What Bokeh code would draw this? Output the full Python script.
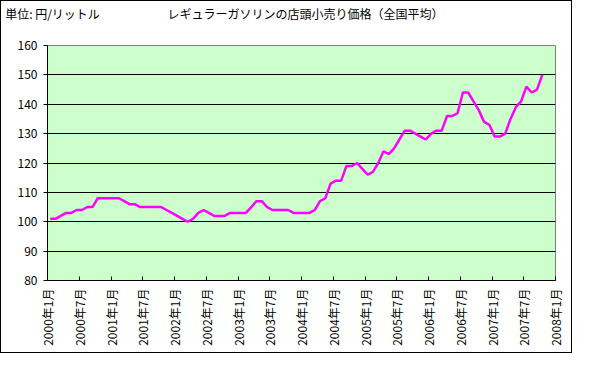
import math
from bokeh.plotting import figure
from bokeh.models import Range1d, FixedTicker, LinearAxis
from bokeh.embed import file_html
from bokeh.resources import INLINE

# ---- data ----
prices = [101, 101, 102, 103, 103, 104, 104, 105, 105, 108,
          108, 108, 108, 108, 107, 106, 106, 105, 105, 105,
          105, 105, 104, 103, 102, 101, 100, 101, 103, 104,
          103, 102, 102, 102, 103, 103, 103, 103, 105, 107,
          107, 105, 104, 104, 104, 104, 103, 103, 103, 103,
          104, 107, 108, 113, 114, 114, 119, 119, 120, 118,
          116, 117, 120, 124, 123, 125, 128, 131, 131, 130,
          129, 128, 130, 131, 131, 136, 136, 137, 144, 144,
          141, 138, 134, 133, 129, 129, 130, 135, 139, 141,
          146, 144, 145, 150]
tick_months = [0, 6, 12, 18, 24, 30, 36, 42, 48, 54, 60, 66, 72, 78, 84, 90, 96]
tick_labels = ["2000年1月", "2000年7月", "2001年1月", "2001年7月", "2002年1月",
               "2002年7月", "2003年1月", "2003年7月", "2004年1月", "2004年7月",
               "2005年1月", "2005年7月", "2006年1月", "2006年7月", "2007年1月",
               "2007年7月", "2008年1月"]
y_ticks = [80, 90, 100, 110, 120, 130, 140, 150, 160]
grid_ticks = [90, 100, 110, 120, 130, 140, 150]
title_text = "レギュラーガソリンの店頭小売り価格（全国平均）"
unit_text = "単位: 円/リットル"

FONT = "Noto Sans CJK JP"
W, H = 572, 353
BL, BR, BT, BB = 46, 18, 40, 74
FW = W - BL - BR

x = [i + 0.5 for i in range(len(prices))]

p = figure(width=W, height=H, output_backend="svg", toolbar_location=None,
           x_range=Range1d(0, 96), y_range=Range1d(80, 160),
           min_border_left=BL, min_border_right=BR, min_border_top=BT, min_border_bottom=BB)
p.styles = {"border": "1px solid black"}
p.background_fill_color = "#CCFFCC"
p.border_fill_color = "white"
p.outline_line_color = "#808080"
p.outline_line_width = 1

p.line(x, prices, line_color="#FF00FF", line_width=2.5)

# y axis
p.yaxis.ticker = FixedTicker(ticks=y_ticks)
p.yaxis.axis_line_color = "black"
p.yaxis.major_tick_line_color = "black"
p.yaxis.major_tick_out = 4
p.yaxis.major_tick_in = 0
p.yaxis.minor_tick_line_color = None
p.yaxis.major_label_text_font = FONT
p.yaxis.major_label_text_font_size = "12px"
p.yaxis.major_label_text_color = "black"
p.yaxis.major_label_standoff = 6

# x axis
p.xaxis.ticker = FixedTicker(ticks=tick_months)
p.xaxis.major_label_overrides = {m: lab for m, lab in zip(tick_months, tick_labels)}
p.xaxis.major_label_orientation = math.pi / 2
p.xaxis.axis_line_color = "black"
p.xaxis.major_tick_line_color = "black"
p.xaxis.major_tick_in = 4
p.xaxis.major_tick_out = 0
p.xaxis.minor_tick_line_color = None
p.xaxis.major_label_text_font = FONT
p.xaxis.major_label_text_font_size = "12px"
p.xaxis.major_label_text_color = "black"
p.xaxis.major_label_standoff = 8

# grid
p.xgrid.grid_line_color = None
p.ygrid.ticker = FixedTicker(ticks=grid_ticks)
p.ygrid.grid_line_color = "black"
p.ygrid.grid_line_width = 1

# header texts (unit at left, title centred) on one line, via an axis above the frame
p.extra_x_ranges = {"hdr": Range1d(0, FW)}
unit_pos = 5
title_pos = round(FW * 0.507)
hdr = LinearAxis(x_range_name="hdr", ticker=FixedTicker(ticks=[unit_pos, title_pos]),
                 major_label_overrides={unit_pos: unit_text, title_pos: title_text},
                 axis_line_color=None, major_tick_line_color=None, minor_tick_line_color=None,
                 major_label_text_font=FONT, major_label_text_font_size="12px",
                 major_label_text_color="black", major_label_standoff=18)
p.add_layout(hdr, "above")

open("out.html", "w").write(file_html(p, INLINE))
